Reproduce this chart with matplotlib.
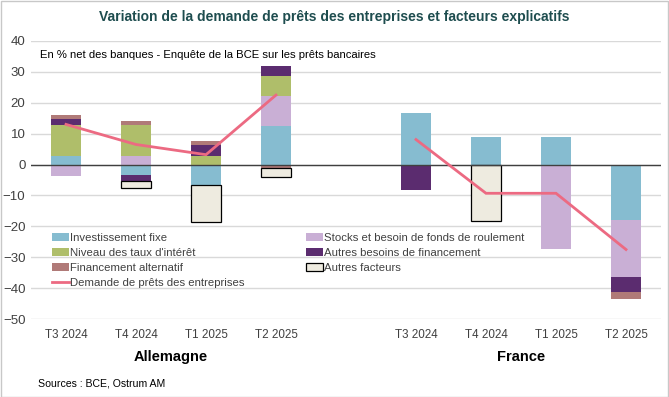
import numpy as np
import matplotlib
matplotlib.use("Agg")
import matplotlib.pyplot as plt
from matplotlib.patches import Patch, Rectangle
from matplotlib.lines import Line2D

plt.rcParams['font.family'] = ['Liberation Sans Narrow', 'Liberation Sans', 'DejaVu Sans']

# ---- data ----
categories = ["T3 2024", "T4 2024", "T1 2025", "T2 2025", "",
              "T3 2024", "T4 2024", "T1 2025", "T2 2025"]
groups = ["Allemagne", "France"]

investissement_fixe = [2.8, -3.5, -6.7, 12.4, 0, 16.6, 8.9, 8.9, -18.1]
stocks_fonds_roulement = [-3.7, 2.8, 0, 9.9, 0, 0, 0, -27.5, -18.2]
niveau_taux = [10.0, 10.0, 2.7, 6.4, 0, 0, 0, 0, 0]
autres_besoins = [1.9, -1.9, 3.6, 3.2, 0, -8.3, 0, 0, -5.1]
financement_alternatif = [1.5, 1.4, 1.3, -1.1, 0, 0, 0, 0, -2.1]
autres_facteurs = [0, -2.1, -12.0, -3.0, 0, 0, -18.2, 0, 0]
demande_prets = [13.0, 6.5, 3.2, 22.5, np.nan, 8.1, -9.3, -9.3, -27.5]

series = [
    ("Investissement fixe", investissement_fixe, "#86BCD0", "none"),
    ("Stocks et besoin de fonds de roulement", stocks_fonds_roulement, "#C9AFD5", "none"),
    ("Niveau des taux d'intérêt", niveau_taux, "#AFBE6A", "none"),
    ("Autres besoins de financement", autres_besoins, "#5B2C6F", "none"),
    ("Financement alternatif", financement_alternatif, "#B07A78", "none"),
    ("Autres facteurs", autres_facteurs, "#EEEBE0", "black"),
]
line_color = "#EC6A82"

W, H = 669, 397
fig = plt.figure(figsize=(W / 100, H / 100), dpi=100)
fig.patch.set_facecolor("white")
fig.add_artist(Rectangle((0.5 / W, 0.5 / H), 1 - 1.5 / W, 1 - 1.5 / H,
                         transform=fig.transFigure, fill=False,
                         edgecolor="#C8C8C8", linewidth=1))

ax_left, ax_right, ax_top, ax_bot = 31, 661, 41, 319
ax = fig.add_axes([ax_left / W, 1 - ax_bot / H, (ax_right - ax_left) / W, (ax_bot - ax_top) / H])

x = np.arange(len(categories))
width = 0.42
pos_base = np.zeros(len(x))
neg_base = np.zeros(len(x))
for name, vals, col, ec in series:
    v = np.array(vals, dtype=float)
    pos = np.where(v > 0, v, 0)
    neg = np.where(v < 0, v, 0)
    lw = 0.9 if ec != "none" else 0
    mask_p = pos > 0
    mask_n = neg < 0
    ax.bar(x[mask_p], pos[mask_p], width, bottom=pos_base[mask_p], color=col,
           edgecolor=ec, linewidth=lw, zorder=3)
    ax.bar(x[mask_n], neg[mask_n], width, bottom=neg_base[mask_n], color=col,
           edgecolor=ec, linewidth=lw, zorder=3)
    pos_base += pos
    neg_base += neg

d = np.array(demande_prets, dtype=float)
ax.plot(x, d, color=line_color, linewidth=2, zorder=5, solid_joinstyle="miter")

ax.set_xlim(-0.5, len(categories) - 0.5)
ax.set_ylim(-50, 40)
ax.set_yticks(np.arange(-50, 41, 10))
ax.yaxis.grid(True, color="#D9D9D9", linewidth=1, zorder=0)
ax.set_axisbelow(True)
ax.axhline(0, color="#404040", linewidth=1, zorder=4)
for s in ax.spines.values():
    s.set_visible(False)
ax.tick_params(axis="both", length=0, labelsize=8.4, colors="#404040")
ax.tick_params(axis="y", pad=4)
ax.tick_params(axis="x", pad=7)
ax.set_xticks(x)
ax.set_xticklabels(categories)
for lbl in ax.get_yticklabels():
    lbl.set_fontsize(9.5)

# group labels
ax.text(1.5, -0.112, groups[0], transform=ax.get_xaxis_transform(), ha="center", va="top",
        fontsize=10.5, fontweight="bold", color="black")
ax.text(6.5, -0.112, groups[1], transform=ax.get_xaxis_transform(), ha="center", va="top",
        fontsize=10.5, fontweight="bold", color="black")

# title, subtitle, source
fig.text(0.5, 1 - 17 / H, "Variation de la demande de prêts des entreprises et facteurs explicatifs",
         ha="center", va="center", fontsize=10.0, fontweight="bold", color="#1E4D4F")
fig.text(40 / W, 1 - 55 / H, "En % net des banques - Enquête de la BCE sur les prêts bancaires",
         ha="left", va="center", fontsize=8.15, color="black")
fig.text(38 / W, 1 - 383 / H, "Sources : BCE, Ostrum AM", ha="left", va="center",
         fontsize=7.6, color="black")

# legends
def patch(col, ec):
    return Patch(facecolor=col, edgecolor=ec if ec != "none" else col, linewidth=0.9 if ec != "none" else 0)

h1 = [patch(series[0][2], "none"), patch(series[2][2], "none"), patch(series[4][2], "none"),
      Line2D([0], [0], color=line_color, linewidth=2)]
l1 = [series[0][0], series[2][0], series[4][0], "Demande de prêts des entreprises"]
h2 = [patch(series[1][2], "none"), patch(series[3][2], "none"), patch(series[5][2], "black")]
l2 = [series[1][0], series[3][0], series[5][0]]

leg_kw = dict(frameon=False, fontsize=8.2, handlelength=1.5, handleheight=0.7,
              handletextpad=0.12, labelspacing=0.45, borderaxespad=0, borderpad=0,
              loc="upper left")
leg1 = fig.legend(h1, l1, bbox_to_anchor=(52 / W, 1 - 233 / H), **leg_kw)
leg2 = fig.legend(h2, l2, bbox_to_anchor=(306 / W, 1 - 233 / H), **leg_kw)
for lg in (leg1, leg2):
    for t in lg.get_texts():
        t.set_color("#404040")

fig.savefig("out.png", dpi=100, facecolor="white")
